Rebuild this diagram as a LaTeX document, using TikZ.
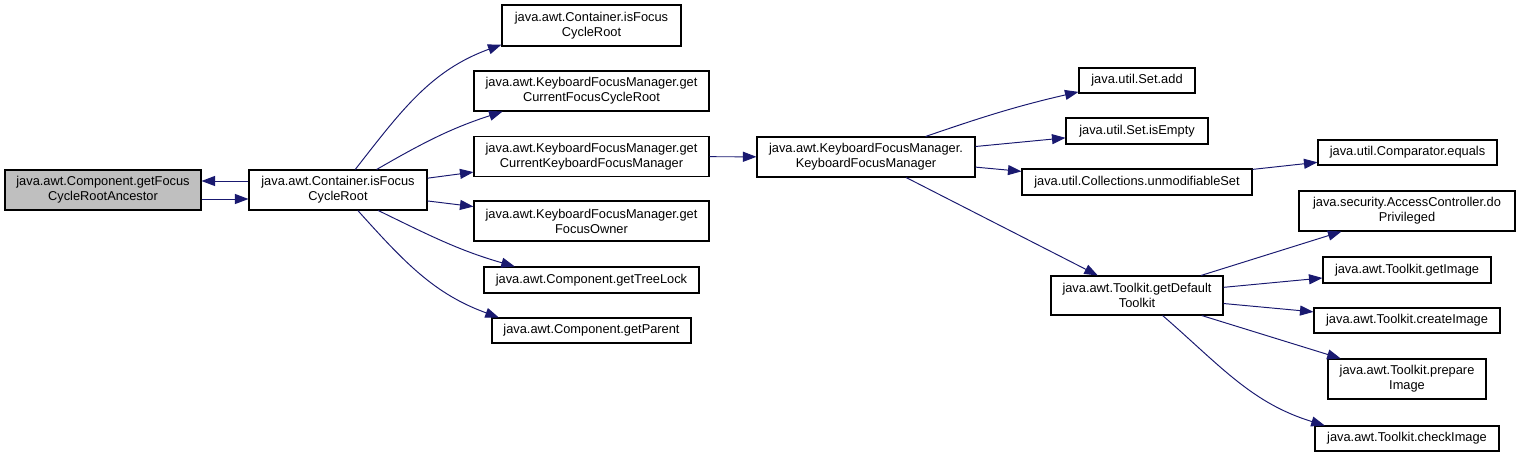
\documentclass[tikz,border=0pt]{standalone}
\usepackage{fontspec}
\setmainfont{Liberation Sans}
\usepackage{tikz}
\usetikzlibrary{arrows.meta}
\definecolor{edgeblue}{RGB}{25,25,112}
\definecolor{rootgrey}{RGB}{191,191,191}

\begin{document}
\begin{tikzpicture}[x=0.02cm,y=-0.02cm,
  every node/.style={font=\fontsize{7.3}{8.5}\selectfont},
  func/.style={draw=black,fill=white,line width=0.6pt,align=center,inner sep=0pt},
  sz/.style 2 args={minimum width=#1*0.02cm,minimum height=#2*0.02cm},
  calls/.style={-{Triangle[length=0.27cm,width=0.2cm]},edgeblue,line width=0.55pt}]
\useasboundingbox (0,0) rectangle (1520,457);
% caller and first level
\node[func,sz={196}{40},fill=rootgrey] (anc) at (103,190) {java.awt.Component.getFocus\\CycleRootAncestor};
\node[func,sz={178}{40}] (iscr) at (338,190) {java.awt.Container.isFocus\\CycleRoot};
% second level
\node[func,sz={179}{41}] (cycroot) at (591.5,25.5) {java.awt.Container.isFocus\\CycleRoot};
\node[func,sz={235}{40}] (curroot) at (591.5,91) {java.awt.KeyboardFocusManager.get\\CurrentFocusCycleRoot};
\node[func,sz={235}{40}] (curkfm) at (591.5,156.5) {java.awt.KeyboardFocusManager.get\\CurrentKeyboardFocusManager};
\node[func,sz={235}{40}] (owner) at (591.5,221) {java.awt.KeyboardFocusManager.get\\FocusOwner};
\node[func,sz={215}{26}] (treelock) at (591.5,280) {java.awt.Component.getTreeLock};
\node[func,sz={199}{25}] (parent) at (591.5,330.5) {java.awt.Component.getParent};
% third level
\node[func,sz={218}{40}] (kfm) at (866,157) {java.awt.KeyboardFocusManager.\\KeyboardFocusManager};
\node[func,sz={116}{25}] (setadd) at (1137,80.5) {java.util.Set.add};
\node[func,sz={142}{26}] (setempty) at (1137,131) {java.util.Set.isEmpty};
\node[func,sz={230}{26}] (unmod) at (1137,182) {java.util.Collections.unmodifiableSet};
\node[func,sz={172}{39}] (deftk) at (1137,295.5) {java.awt.Toolkit.getDefault\\Toolkit};
% last level
\node[func,sz={179}{25}] (cmpeq) at (1407.5,152.5) {java.util.Comparator.equals};
\node[func,sz={216}{40}] (dopriv) at (1407,211) {java.security.AccessController.do\\Privileged};
\node[func,sz={168}{26}] (getimg) at (1407,270) {java.awt.Toolkit.getImage};
\node[func,sz={186}{25}] (crimg) at (1407,320.5) {java.awt.Toolkit.createImage};
\node[func,sz={158}{40}] (prepimg) at (1407,379) {java.awt.Toolkit.prepare\\Image};
\node[func,sz={184}{25}] (chkimg) at (1407,438.5) {java.awt.Toolkit.checkImage};
% edges
\draw[calls] ([yshift=0.18cm]iscr.west) -- ([yshift=0.18cm]anc.east);
\draw[calls] ([yshift=-0.18cm]anc.east) -- ([yshift=-0.18cm]iscr.west);
\draw[calls] (iscr.50) to[out=52,in=200] (cycroot.192);
\draw[calls] (iscr.28) to[out=30,in=198] (curroot.193);
\draw[calls] (iscr.-27) to[out=-26,in=164] (treelock.170);
\draw[calls] (iscr.-46) to[out=-48,in=160] (parent.172);
\draw[calls] (kfm.19) to[out=19,in=193] (setadd.191);
\draw[calls] (deftk.-38) to[out=-41,in=163] (chkimg.171);
\foreach \a/\b in {iscr/curkfm,iscr/owner,curkfm/kfm,kfm/setempty,kfm/unmod,kfm/deftk,
  unmod/cmpeq,deftk/dopriv,deftk/getimg,deftk/crimg,deftk/prepimg}
  \draw[calls] (\a) -- (\b);
\end{tikzpicture}
\end{document}
